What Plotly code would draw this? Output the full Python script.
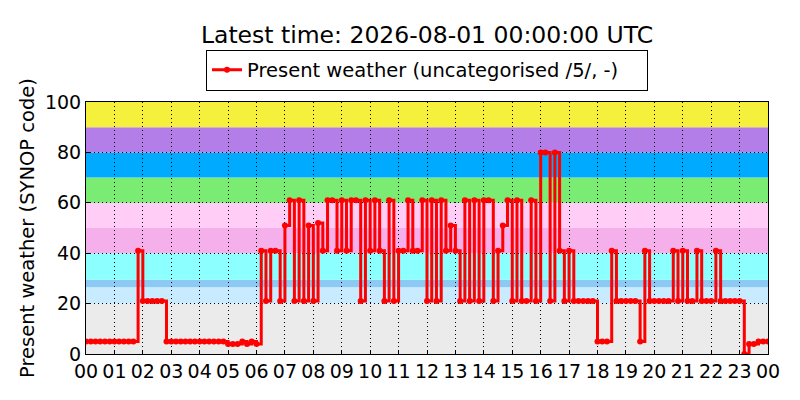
import plotly.graph_objects as go
import pandas as pd

# Present weather SYNOP code, one value every 10 minutes (00:00 -> next 00:00)
weather_code = [
    5, 5, 5, 5, 5, 5,        # 00
    5, 5, 5, 5, 5, 41,       # 01
    21, 21, 21, 21, 21, 5,   # 02
    5, 5, 5, 5, 5, 5,        # 03
    5, 5, 5, 5, 5, 5,        # 04
    4, 4, 4, 5, 4, 5,        # 05
    4, 41, 21, 41, 41, 21,   # 06
    51, 61, 21, 61, 21, 51,  # 07
    21, 52, 41, 61, 61, 41,  # 08
    61, 41, 61, 61, 21, 61,  # 09
    41, 61, 41, 21, 61, 21,  # 10
    41, 41, 61, 41, 41, 61,  # 11
    21, 61, 21, 61, 41, 51,  # 12
    41, 21, 61, 21, 61, 21,  # 13
    61, 61, 21, 41, 51, 61,  # 14
    21, 61, 21, 21, 61, 21,  # 15
    80, 80, 21, 80, 41, 21,  # 16
    41, 21, 21, 21, 21, 21,  # 17
    5, 5, 5, 41, 21, 21,     # 18
    21, 21, 21, 5, 41, 21,   # 19
    21, 21, 21, 21, 41, 21,  # 20
    41, 21, 21, 41, 21, 21,  # 21
    21, 41, 21, 21, 21, 21,  # 22
    21, 0, 4, 4, 5, 5,       # 23
    5,
]
times = pd.date_range("2026-07-31 00:00", periods=len(weather_code), freq="10min")

# background category bands (SYNOP code ranges) and colours
band_lo = [0, 20, 26.5, 29.5, 40, 50, 60, 70, 80, 90]
band_hi = [20, 26.5, 29.5, 40, 50, 60, 70, 80, 90, 100]
band_col = ["#ebebeb", "#c8ebff", "#8ccaf5", "#8cffff", "#f5afeb",
            "#ffcdf5", "#7aeb73", "#00aaff", "#b47ee8", "#f5f03c"]

fig = go.Figure()

for lo, hi, col in zip(band_lo, band_hi, band_col):
    fig.add_shape(type="rect", xref="paper", yref="y", x0=0, x1=1, y0=lo, y1=hi,
                  fillcolor=col, line_width=0, layer="below")

fig.add_trace(go.Scatter(
    x=times, y=weather_code,
    mode="lines+markers",
    line=dict(color="#ff0000", width=3, shape="hv"),
    marker=dict(color="#ff0000", size=6),
    name="Present weather (uncategorised /5/, -)",
))

fig.update_layout(
    width=800, height=400,
    margin=dict(l=86, r=32, t=102, b=46, autoexpand=False),
    paper_bgcolor="white", plot_bgcolor="white",
    font=dict(family="DejaVu Sans", size=19, color="black"),
    title=dict(text="Latest time: 2026-08-01 00:00:00 UTC", xref="paper", x=0.5,
               xanchor="center", y=0.912, yanchor="middle", font=dict(size=23.5)),
    showlegend=True,
    legend=dict(x=0.5, xanchor="center", y=1.045, yanchor="bottom",
                orientation="h", bordercolor="black", borderwidth=1,
                bgcolor="white", font=dict(size=19.5),
                entrywidth=395, entrywidthmode="pixels"),
    xaxis=dict(
        range=[pd.Timestamp("2026-07-31 00:00"), pd.Timestamp("2026-08-01 00:00")],
        tickformat="%H", dtick=3600000, tick0="2026-07-31 00:00",
        showgrid=True, gridcolor="black", griddash="1px,3px", gridwidth=1,
        showline=True, linecolor="black", linewidth=1, mirror=True,
        ticks="inside", ticklen=4, tickcolor="black", zeroline=False,
        automargin=False,
    ),
    yaxis=dict(
        range=[0, 100], dtick=20,
        title=dict(text="Present weather (SYNOP code)", standoff=5, font=dict(size=19.5)),
        showgrid=True, gridcolor="black", griddash="1px,3px", gridwidth=1,
        showline=True, linecolor="black", linewidth=1, mirror=True,
        ticks="inside", ticklen=4, tickcolor="black", zeroline=False,
        automargin=False,
    ),
)

fig.write_html("out.html", config={"displayModeBar": False},
               post_script="document.body.style.margin='0px';")
